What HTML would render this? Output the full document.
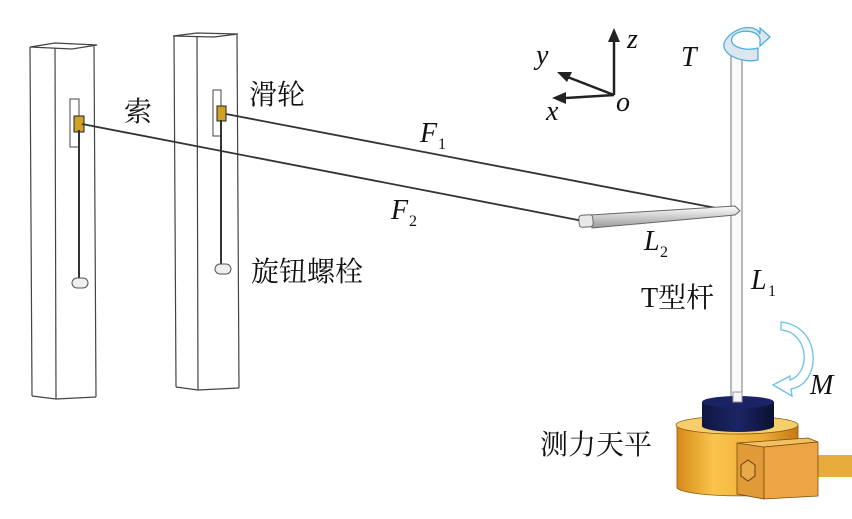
<!DOCTYPE html>
<html><head><meta charset="utf-8"><style>
html,body{margin:0;padding:0;background:#fff}
svg{display:block}
.cn{font-family:"Liberation Serif","Noto Serif CJK SC","Noto Sans CJK SC",serif;font-size:28px;fill:#111}
.it{font-family:"Liberation Serif",serif;font-style:italic;font-size:28px;fill:#111}
.sub{font-family:"Liberation Serif",serif;font-size:16px;fill:#111}
</style></head><body>
<svg width="852" height="519" viewBox="0 0 852 519" xmlns="http://www.w3.org/2000/svg">
<defs>
<linearGradient id="gold" x1="0" x2="1"><stop offset="0" stop-color="#d88a18"/><stop offset="0.3" stop-color="#f8c44c"/><stop offset="0.7" stop-color="#f0ac38"/><stop offset="1" stop-color="#c47a14"/></linearGradient>
<linearGradient id="navy" x1="0" x2="1"><stop offset="0" stop-color="#10163e"/><stop offset="0.5" stop-color="#1c2566"/><stop offset="1" stop-color="#0c1030"/></linearGradient>
<linearGradient id="rod" x1="0" y1="0" x2="0" y2="1"><stop offset="0" stop-color="#fff"/><stop offset="1" stop-color="#999"/></linearGradient>
</defs>
<g fill="none" stroke="#444" stroke-width="1.2">
<polygon points="30,47 55,43 97,45 72,49" fill="#fff"/>
<line x1="30" y1="47" x2="32" y2="396"/><line x1="55" y1="48" x2="56" y2="399"/><line x1="94" y1="46" x2="96" y2="397"/>
<line x1="32" y1="396" x2="56" y2="399"/><line x1="56" y1="399" x2="96" y2="397"/>
<polygon points="173,36 197,33 238,34 214,37" fill="#fff"/>
<line x1="174" y1="36" x2="176" y2="387"/><line x1="197" y1="37" x2="198" y2="390"/><line x1="237" y1="35" x2="239" y2="388"/>
<line x1="176" y1="387" x2="198" y2="390"/><line x1="198" y1="390" x2="239" y2="388"/>
</g>
<rect x="70" y="99" width="9" height="48" fill="#fff" stroke="#444"/>
<rect x="213" y="90" width="8" height="46" fill="#fff" stroke="#444"/>
<rect x="74" y="116" width="10" height="16" fill="#cfa227" stroke="#222"/>
<rect x="217" y="106" width="9" height="15" fill="#cfa227" stroke="#222"/>
<line x1="79" y1="130" x2="79" y2="280" stroke="#333" stroke-width="2"/>
<line x1="221" y1="120" x2="221" y2="266" stroke="#333" stroke-width="2"/>
<rect x="72" y="278" width="16" height="10" rx="5" fill="#eee" stroke="#555"/>
<rect x="215" y="264" width="16" height="10" rx="5" fill="#eee" stroke="#555"/>
<line x1="82" y1="124" x2="583" y2="221" stroke="#333" stroke-width="1.8"/>
<line x1="226" y1="114" x2="716" y2="208" stroke="#333" stroke-width="1.8"/>
<rect x="731" y="50" width="11" height="350" fill="#fafafa" stroke="#777" stroke-width="1"/>
<polygon points="590,215 735,206 740,211 735,215 592,228" fill="url(#rod)" stroke="#666"/>
<rect x="579" y="215" width="14" height="12" rx="3" fill="#e8e8e8" stroke="#666" transform="rotate(-4 586 221)"/>
<path d="M760,42 C762,30 740,28 733,36 C726,46 745,52 758,48 L758,60 C740,64 715,52 727,38 C737,26 756,24 760,34 L760,28 L770,37 L760,46 Z" fill="#dde6ee" stroke="#4ab0e0" stroke-width="1.3"/>
<g stroke="#222" stroke-width="2.5" fill="#222">
<line x1="614" y1="95" x2="614" y2="40"/><polygon points="608,42 620,42 614,28" stroke="none"/>
<line x1="614" y1="95" x2="565" y2="76"/><polygon points="557,72 572,72 567,82" stroke="none"/>
<line x1="614" y1="95" x2="566" y2="98"/><polygon points="552,98 566,92 566,104" stroke="none"/>
</g>
<text class="it" x="627" y="48">z</text>
<text class="it" x="536" y="64">y</text>
<text class="it" x="546" y="120">x</text>
<text class="it" x="616" y="111">o</text>
<text class="it" x="681" y="66">T</text>
<path d="M781,330 C808,332 812,372 790,380 L790,376 L773,385 L792,396 L791,389 C822,384 822,326 781,322 Z" fill="#fff" stroke="#6ac0ea" stroke-width="1.3"/>
<text class="it" x="810" y="394">M</text>
<path d="M677,425 L677,488 A61,9 0 0 0 798,488 L798,425 Z" fill="url(#gold)" stroke="#8a5a10" stroke-width="0.8"/>
<ellipse cx="737" cy="425" rx="61" ry="9" fill="#f6cf6c" stroke="#8a5a10" stroke-width="0.8"/>
<path d="M702,402 L702,426 A36,6 0 0 0 774,426 L774,402 Z" fill="url(#navy)"/>
<ellipse cx="738" cy="402" rx="36" ry="6" fill="#1b2364"/>
<rect x="733" y="392" width="9" height="10" fill="#f5f5f5" stroke="#999"/>
<rect x="816" y="455" width="36" height="22" fill="#e7ac3c"/>
<polygon points="737,443 764,447 764,499 737,494" fill="#e09a38" stroke="#7a4e10" stroke-width="0.8"/>
<polygon points="737,443 808,438 818,442 764,447" fill="#f2c060" stroke="#7a4e10" stroke-width="0.8"/>
<polygon points="764,447 818,442 818,496 764,499" fill="#eca444" stroke="#7a4e10" stroke-width="0.8"/>
<polygon points="741,465 748,460 755,465 755,476 748,481 741,476" fill="#e7aa48" stroke="#6a4010"/>
<text class="cn" x="124" y="121">索</text>
<text class="cn" x="249" y="104">滑轮</text>
<text class="cn" x="251" y="281">旋钮螺栓</text>
<text class="cn" x="641" y="307">T型杆</text>
<text class="cn" x="540" y="454">测力天平</text>
<text class="it" x="420" y="142">F</text><text class="sub" x="438" y="149">1</text>
<text class="it" x="391" y="219">F</text><text class="sub" x="409" y="226">2</text>
<text class="it" x="644" y="250">L</text><text class="sub" x="660" y="257">2</text>
<text class="it" x="751" y="289">L</text><text class="sub" x="768" y="296">1</text>
</svg>
</body></html>
